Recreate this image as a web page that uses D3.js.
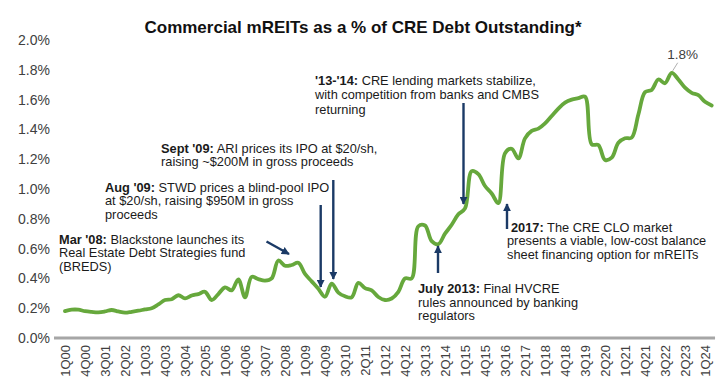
<!DOCTYPE html>
<html>
<head>
<meta charset="utf-8">
<script src="https://cdn.jsdelivr.net/npm/d3@7"></script>
<style>
  html, body { margin: 0; padding: 0; background: #fff; }
  svg { display: block; font-family: "Liberation Sans", Arial, sans-serif; }
</style>
</head>
<body>
<svg id="chart" width="724" height="379"></svg>
<script>
// ---- DATA ----
const title = "Commercial mREITs as a % of CRE Debt Outstanding*";

// quarterly series, 1Q00 .. 2Q24 (% of CRE debt outstanding)
const shareValues = [
  0.180, 0.190, 0.190, 0.180, 0.175, 0.172, 0.178, 0.188, 0.178, 0.170,
  0.176, 0.183, 0.192, 0.200, 0.225, 0.255, 0.260, 0.287, 0.266, 0.285,
  0.295, 0.310, 0.255, 0.295, 0.340, 0.320, 0.394, 0.273, 0.410, 0.395,
  0.385, 0.400, 0.520, 0.485, 0.490, 0.505, 0.430, 0.380, 0.330, 0.277,
  0.365, 0.305, 0.280, 0.273, 0.370, 0.335, 0.320, 0.275, 0.255, 0.265,
  0.310, 0.400, 0.400, 0.750, 0.755, 0.650, 0.630, 0.700, 0.760, 0.830,
  0.870, 1.120, 1.100, 1.020, 0.970, 0.905, 1.240, 1.270, 1.205, 1.340,
  1.390, 1.405, 1.440, 1.490, 1.540, 1.580, 1.600, 1.610, 1.620, 1.300,
  1.295, 1.195, 1.210, 1.310, 1.340, 1.345, 1.500, 1.650, 1.665, 1.735,
  1.710, 1.780, 1.735, 1.680, 1.645, 1.630, 1.585, 1.560
];

// x tick labels, one every 3 quarters starting at 1Q00
const xTickLabels = [
  "1Q00","4Q00","3Q01","2Q02","1Q03","4Q03","3Q04","2Q05","1Q06","4Q06",
  "3Q07","2Q08","1Q09","4Q09","3Q10","2Q11","1Q12","4Q12","3Q13","2Q14",
  "1Q15","4Q15","3Q16","2Q17","1Q18","4Q18","3Q19","2Q20","1Q21","4Q21",
  "3Q22","2Q23","1Q24"
];
const xTickStep = 3;

const yTicks = [0.0, 0.2, 0.4, 0.6, 0.8, 1.0, 1.2, 1.4, 1.6, 1.8, 2.0];

const peakLabel = "1.8%";

const notes = [
  { bold: "Mar '08:", lines: [" Blackstone launches its", "Real Estate Debt Strategies fund", "(BREDS)"] },
  { bold: "Aug '09:", lines: [" STWD prices a blind-pool IPO", "at $20/sh, raising $950M in gross", "proceeds"] },
  { bold: "Sept '09:", lines: [" ARI prices its IPO at $20/sh,", "raising ~$200M in gross proceeds"] },
  { bold: "'13-'14:", lines: [" CRE lending markets stabilize,", "with competition from banks and CMBS", "returning"] },
  { bold: "July 2013:", lines: [" Final HVCRE", "rules announced by banking", "regulators"] },
  { bold: "2017:", lines: [" The CRE CLO market", "presents a viable, low-cost balance", "sheet financing option for mREITs"] }
];

// ---- LAYOUT ----
const svg = d3.select("#chart");
const x = d3.scaleLinear().domain([0, shareValues.length - 1]).range([65, 711.7]);
const y = d3.scaleLinear().domain([0, 2.0]).range([338, 40]);

const textColor = "#404040";
const navy = "#1b3a66";
const green = "#66a83c";

// title
svg.append("text")
  .attr("x", 363).attr("y", 33)
  .attr("text-anchor", "middle")
  .attr("font-size", 17).attr("font-weight", "bold")
  .attr("fill", "#111")
  .text(title);

// y axis
const yAxis = d3.axisLeft(y).tickValues(yTicks)
  .tickFormat(d => d3.format(".1f")(d) + "%")
  .tickSize(0).tickPadding(0);
const gy = svg.append("g").attr("transform", "translate(50,0)").call(yAxis);
gy.select(".domain").remove();
gy.selectAll("text").attr("font-size", 14).attr("fill", textColor)
  .attr("font-family", "Liberation Sans, Arial, sans-serif");

// x axis baseline
svg.append("line")
  .attr("x1", x(-1.65)).attr("x2", x(97.5))
  .attr("y1", y(0)).attr("y2", y(0))
  .attr("stroke", "#a6a6a6").attr("stroke-width", 3);

// x tick labels
const xTickIdx = xTickLabels.map((d, i) => i * xTickStep);
const xAxis = d3.axisBottom(x).tickValues(xTickIdx)
  .tickFormat((d, i) => xTickLabels[i]).tickSize(0).tickPadding(0);
const gx = svg.append("g").attr("transform", `translate(0,${y(0) + 7})`).call(xAxis);
gx.select(".domain").remove();
gx.selectAll("text")
  .attr("font-size", 13).attr("fill", textColor)
  .attr("font-family", "Liberation Sans, Arial, sans-serif")
  .attr("text-anchor", "end")
  .attr("transform", "rotate(-90)")
  .attr("x", 0).attr("y", 0).attr("dy", "0.35em");

// line
const line = d3.line()
  .x((d, i) => x(i)).y(d => y(d))
  .curve(d3.curveCatmullRom.alpha(0.5));
svg.append("path")
  .datum(shareValues)
  .attr("d", line)
  .attr("fill", "none")
  .attr("stroke", green).attr("stroke-width", 3.8)
  .attr("stroke-linejoin", "round").attr("stroke-linecap", "round");

// peak label
const peakIdx = shareValues.indexOf(d3.max(shareValues));
svg.append("line")
  .attr("x1", x(peakIdx) + 1).attr("y1", y(shareValues[peakIdx]) - 2)
  .attr("x2", x(peakIdx) + 6).attr("y2", y(shareValues[peakIdx]) - 10)
  .attr("stroke", "#9a9a9a").attr("stroke-width", 0.8);
svg.append("text")
  .attr("x", x(peakIdx) + 11).attr("y", y(shareValues[peakIdx]) - 14)
  .attr("text-anchor", "middle").attr("font-size", 13.5).attr("fill", textColor)
  .text(peakLabel);

// arrow marker
const defs = svg.append("defs");
defs.append("marker")
  .attr("id", "ah").attr("viewBox", "0 0 10 10")
  .attr("refX", 9).attr("refY", 5)
  .attr("markerWidth", 8.5).attr("markerHeight", 8)
  .attr("markerUnits", "userSpaceOnUse")
  .attr("orient", "auto")
  .append("path").attr("d", "M0,0 L10,5 L0,10 z").attr("fill", navy);

function arrow(x1, y1, x2, y2) {
  svg.append("line")
    .attr("x1", x1).attr("y1", y1).attr("x2", x2).attr("y2", y2)
    .attr("stroke", navy).attr("stroke-width", 2.4)
    .attr("marker-end", "url(#ah)");
}

// annotation text: one <text> per line
const notePos = [
  { x: 59, y: 243.5, lh: 13.6 },
  { x: 105, y: 191.5, lh: 13.6 },
  { x: 161, y: 152.5, lh: 13.6 },
  { x: 315, y: 85, lh: 14.3 },
  { x: 418, y: 293, lh: 13.6 },
  { x: 511, y: 231.5, lh: 13.6, x2: 507 }
];
notes.forEach((n, k) => {
  const p = notePos[k];
  const g = svg.append("g").attr("font-size", 12.8).attr("fill", "#1a1a1a");
  n.lines.forEach((ln, j) => {
    const t = g.append("text")
      .attr("x", j === 0 ? p.x : (p.x2 !== undefined ? p.x2 : p.x))
      .attr("y", p.y + j * p.lh);
    if (j === 0) t.append("tspan").attr("font-weight", "bold").text(n.bold);
    t.append("tspan").text(ln);
  });
});

// arrows
arrow(266.5, 241.5, 289, 254);   // Mar '08
arrow(320.7, 205, 320.7, 287);   // Aug '09
arrow(333.3, 180, 333.3, 279);   // Sept '09
arrow(463.5, 103, 463.5, 204);   // '13-'14
arrow(438, 273, 438, 246);       // July 2013
arrow(507, 229, 507, 204);       // 2017
</script>
</body>
</html>
